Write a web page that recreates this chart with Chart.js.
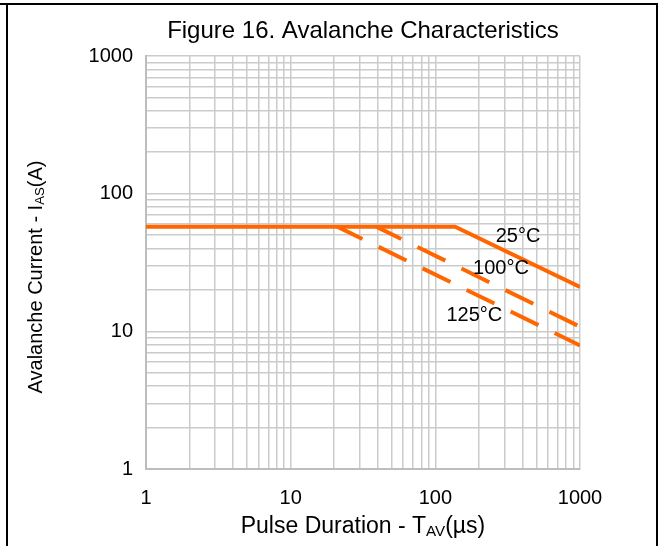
<!DOCTYPE html>
<html>
<head>
<meta charset="utf-8">
<script src="https://cdn.jsdelivr.net/npm/chart.js@4"></script>
<style>
  html, body { margin: 0; padding: 0; background: #fff; }
  #wrap { width: 658px; height: 546px; }
</style>
</head>
<body>
<div id="wrap"><canvas id="avalancheChart" width="658" height="546"></canvas></div>
<script>
// values
const gridTicks = [1, 2, 3, 4, 5, 6, 7, 8, 9, 10, 20, 30, 40, 50, 60, 70, 80, 90,
  100, 200, 300, 400, 500, 600, 700, 800, 900, 1000];
const decadeLabels = [1, 10, 100, 1000];

const t25X = [1, 137, 1000];
const t25Y = [57.6, 57.6, 21];
const t100X = [39, 1000];
const t100Y = [57.6, 10.8];
const t125X = [21, 1000];
const t125Y = [57.6, 7.9];

const curveLabels = ["25°C", "100°C", "125°C"];
const curveLabelX = [373, 284, 186];
const curveLabelY = [48.5, 28.5, 13.1];

const orange = "#ff6600";
const toPoints = (xs, ys) => xs.map((x, i) => ({ x, y: ys[i] }));

// text with a subscript part, drawn on the canvas
function drawSubText(ctx, parts, size, cx, cy) {
  let total = 0;
  parts.forEach(p => {
    ctx.font = (p.sub ? size * 0.66 : size) + "px Arial, 'Liberation Sans'";
    p.w = ctx.measureText(p.t).width;
    total += p.w;
  });
  let x = cx - total / 2;
  ctx.textAlign = "left";
  ctx.textBaseline = "alphabetic";
  parts.forEach(p => {
    ctx.font = (p.sub ? size * 0.66 : size) + "px Arial, 'Liberation Sans'";
    ctx.fillText(p.t, x, cy + (p.sub ? size * 0.12 : 0));
    x += p.w;
  });
}

const decorPlugin = {
  id: "decor",
  beforeDraw(chart) {
    const ctx = chart.ctx;
    ctx.save();
    ctx.fillStyle = "#fff";
    ctx.fillRect(0, 0, chart.width, chart.height);
    ctx.fillStyle = "#000";
    ctx.fillRect(0, 3, chart.width, 2);
    ctx.fillRect(6, 3, 2, chart.height);
    ctx.fillRect(656, 3, 2, chart.height);
    ctx.restore();
  },
  afterDraw(chart) {
    const ctx = chart.ctx;
    const xs = chart.scales.x, ys = chart.scales.y;
    const area = chart.chartArea;
    ctx.save();
    ctx.fillStyle = "#000";
    ctx.font = "24px Arial, 'Liberation Sans'";
    ctx.textAlign = "center";
    ctx.textBaseline = "middle";
    ctx.fillText("Figure 16. Avalanche Characteristics", (area.left + area.right) / 2, 31);

    ctx.font = "20px Arial, 'Liberation Sans'";
    curveLabels.forEach((txt, i) => {
      ctx.fillText(txt, xs.getPixelForValue(curveLabelX[i]), ys.getPixelForValue(curveLabelY[i]));
    });

    drawSubText(ctx, [{ t: "Pulse Duration - T" }, { t: "AV", sub: true }, { t: "(µs)" }],
      23, (area.left + area.right) / 2, 533);

    ctx.translate(42, 277);
    ctx.rotate(-Math.PI / 2);
    drawSubText(ctx, [{ t: "Avalanche Current - I" }, { t: "AS", sub: true }, { t: "(A)" }],
      20, 0, 0);
    ctx.restore();
  }
};

const ctx = document.getElementById("avalancheChart").getContext("2d");

new Chart(ctx, {
  type: "line",
  data: {
    datasets: [
      {
        label: "25°C",
        data: toPoints(t25X, t25Y),
        borderColor: orange,
        borderWidth: 4,
        pointRadius: 0,
        fill: false,
        tension: 0
      },
      {
        label: "100°C",
        data: toPoints(t100X, t100Y),
        borderColor: orange,
        borderWidth: 4,
        borderDash: [31, 18],
        borderDashOffset: 3,
        pointRadius: 0,
        fill: false,
        tension: 0
      },
      {
        label: "125°C",
        data: toPoints(t125X, t125Y),
        borderColor: orange,
        borderWidth: 4,
        borderDash: [31, 18],
        borderDashOffset: 3,
        pointRadius: 0,
        fill: false,
        tension: 0
      }
    ]
  },
  options: {
    responsive: false,
    animation: false,
    layout: { padding: { left: 0, top: 56, right: 78, bottom: 0 } },
    plugins: {
      legend: { display: false },
      tooltip: { enabled: false }
    },
    scales: {
      x: {
        type: "logarithmic",
        min: 1,
        max: 1000,
        afterBuildTicks: scale => { scale.ticks = gridTicks.map(v => ({ value: v })); },
        afterFit: scale => { scale.height = 77; },
        ticks: {
          autoSkip: false,
          maxRotation: 0,
          padding: 17,
          color: "#000",
          font: { family: "Arial, 'Liberation Sans'", size: 20 },
          callback: v => decadeLabels.includes(v) ? String(v) : ""
        },
        grid: { color: "#cbcbcb", lineWidth: 1.5, drawTicks: false },
        border: { color: "#bdbdbd", width: 2 }
      },
      y: {
        type: "logarithmic",
        min: 1,
        max: 1000,
        afterBuildTicks: scale => { scale.ticks = gridTicks.map(v => ({ value: v })); },
        afterFit: scale => { scale.width = 146; },
        ticks: {
          autoSkip: false,
          padding: 13,
          color: "#000",
          font: { family: "Arial, 'Liberation Sans'", size: 20 },
          callback: v => decadeLabels.includes(v) ? String(v) : ""
        },
        grid: { color: "#cbcbcb", lineWidth: 1.5, drawTicks: false },
        border: { color: "#bdbdbd", width: 2 }
      }
    }
  },
  plugins: [decorPlugin]
});
</script>
</body>
</html>
